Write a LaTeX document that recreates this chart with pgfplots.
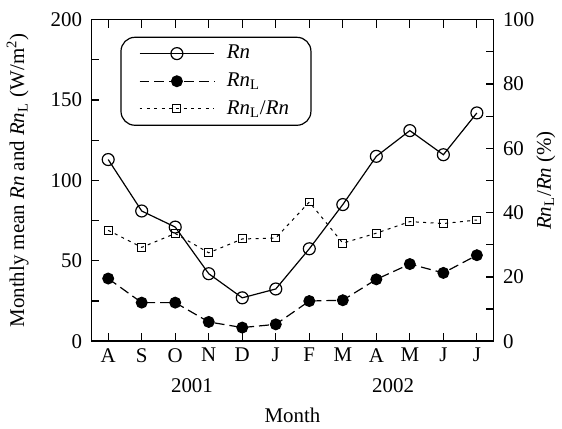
\documentclass[border=0pt]{standalone}
\usepackage{pgfplots}
\pgfplotsset{compat=1.18}
\usepackage{fontspec}
\setmainfont{Liberation Serif}

\newcommand{\Rn}{\textit{Rn}}
\newcommand{\RnL}{\textit{Rn}\textsubscript{L}}

\pgfplotsset{
  base/.style={
    width=202pt, height=161.5pt, scale only axis,
    xmin=0.5, xmax=12.5, ymin=0,
    tick align=inside,
    major tick length=4pt, minor tick length=4pt,
    axis line style={line width=0.8pt},
    every tick/.style={line width=0.6pt, black},
    tick label style={font=\fontsize{10.5}{12}\selectfont},
    yticklabel style={inner xsep=4.5pt},
    label style={font=\fontsize{10.5}{12}\selectfont},
    clip mode=individual,
  },
}

\begin{document}
\begin{tikzpicture}
\begin{axis}[
  base,
  ymax=200,
  ytick={0,50,...,200}, yticklabels={0,50,100,150,200},
  minor y tick num=1,
  ytick pos=left,
  xtick={1,...,12},
  xticklabels={A,S,O,N,D,J,F,M,A,M,J,J},
  xtick pos=both, xticklabel pos=bottom,
  ylabel={Monthly mean \Rn{} and \RnL{} (W/m\textsuperscript{2})},
  ylabel style={yshift=3pt},
]
% Rn
\addplot[black, line width=0.6pt, mark=o, mark size=3pt, mark options={fill=white, solid}] coordinates {
  (1,113) (2,81) (3,71) (4,42) (5,27) (6,32.5) (7,57.5) (8,85) (9,115) (10,131) (11,116) (12,142)
};
% RnL
\addplot[black, line width=0.6pt, dash pattern=on 5pt off 2.5pt, mark=*, mark size=2.7pt, mark options={solid}] coordinates {
  (1,39) (2,24) (3,24) (4,12) (5,8.5) (6,10.5) (7,25) (8,25.5) (9,38.5) (10,48) (11,42.5) (12,53.5)
};
\node at (axis cs:3.5,0) [yshift=-22.5pt, font=\fontsize{10.5}{12}\selectfont] {2001};
\node at (axis cs:9.5,0) [yshift=-22.5pt, font=\fontsize{10.5}{12}\selectfont] {2002};
\node at (axis cs:6.5,0) [yshift=-37pt, font=\fontsize{10.5}{12}\selectfont] {Month};
\end{axis}

\begin{axis}[
  base,
  ymax=100,
  axis x line=none,
  axis y line*=right,
  ytick={0,20,...,100}, yticklabels={0,20,40,60,80,100},
  minor y tick num=1,
  ytick pos=right,
  ylabel={\RnL/\Rn{} (\%)},
  ylabel style={yshift=7pt},
  legend style={at={(rel axis cs:0.072,0.947)}, anchor=north west,
    draw=black, line width=0.6pt, rounded corners=7pt,
    font=\fontsize{10.5}{12}\selectfont, inner xsep=9pt, inner ysep=2pt,
    row sep=1.5pt, /tikz/column 1/.style={column sep=4pt}},
  legend cell align=left,
  legend image code/.code={
    \draw[mark repeat=2, mark phase=2] plot coordinates {(0cm,0cm) (0.66cm,0cm) (1.32cm,0cm)};
  },
]
\addlegendimage{black, line width=0.6pt, mark=o, mark size=3pt, mark options={fill=white, solid}}
\addlegendentry{\Rn}
\addlegendimage{black, line width=0.6pt, dash pattern=on 5pt off 2.5pt, mark=*, mark size=2.7pt, mark options={solid}}
\addlegendentry{\RnL}
\addplot[black, line width=0.5pt, dash pattern=on 1.5pt off 2.2pt, mark=square, mark size=2pt, mark options={solid, fill=white}] coordinates {
  (1,34.5) (2,29.2) (3,33.5) (4,27.5) (5,31.8) (6,32.1) (7,43.3) (8,30.5) (9,33.6) (10,37.2) (11,36.6) (12,37.7)
};
\addlegendentry{\RnL/\Rn}
\end{axis}
\path (current bounding box.north) ++(0,3pt);
\end{tikzpicture}
\end{document}
